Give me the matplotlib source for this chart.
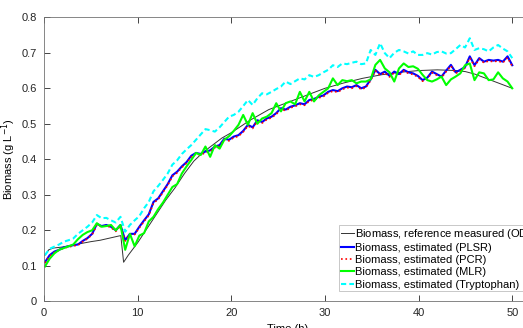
import numpy as np
import matplotlib.pyplot as plt

plt.rcParams['font.family'] = ['Liberation Sans', 'DejaVu Sans']

# reference measurement (OD), sparse and smooth
t_ref = [0.1, 0.5, 1, 2, 3, 4, 5, 6, 7, 8, 8.2, 8.5, 9, 10, 11, 12, 13, 14, 15, 16,
         17, 18, 19, 20, 22, 24, 26, 28, 30, 32, 34, 36, 38, 40, 42, 44, 45, 46, 47,
         48, 49, 50]
od_ref = [0.13, 0.145, 0.15, 0.153, 0.158, 0.163, 0.168, 0.172, 0.178, 0.184, 0.185,
          0.11, 0.13, 0.165, 0.205, 0.245, 0.285, 0.32, 0.36, 0.395, 0.42, 0.44, 0.46,
          0.475, 0.51, 0.54, 0.56, 0.58, 0.6, 0.615, 0.628, 0.638, 0.645, 0.65, 0.652,
          0.65, 0.647, 0.64, 0.63, 0.62, 0.61, 0.6]

# estimated series share one sampling grid
t_est = np.linspace(0.1, 50, 100)

plsr = [0.11, 0.13, 0.14, 0.145, 0.152, 0.155, 0.158, 0.16, 0.17, 0.178,
        0.19, 0.218, 0.212, 0.215, 0.21, 0.2, 0.215, 0.172, 0.19, 0.19,
        0.21, 0.228, 0.245, 0.28, 0.29, 0.31, 0.33, 0.355, 0.365, 0.38,
        0.392, 0.41, 0.418, 0.415, 0.422, 0.425, 0.436, 0.44, 0.458, 0.455,
        0.464, 0.468, 0.48, 0.497, 0.49, 0.51, 0.505, 0.515, 0.52, 0.53,
        0.544, 0.54, 0.548, 0.552, 0.558, 0.555, 0.567, 0.57, 0.576, 0.58,
        0.59, 0.595, 0.592, 0.6, 0.605, 0.603, 0.609, 0.6, 0.605, 0.625,
        0.652, 0.64, 0.647, 0.635, 0.647, 0.64, 0.652, 0.645, 0.642, 0.635,
        0.623, 0.63, 0.647, 0.64, 0.633, 0.65, 0.666, 0.645, 0.652, 0.66,
        0.69, 0.665, 0.685, 0.675, 0.68, 0.678, 0.68, 0.675, 0.69, 0.665]

pcr = [0.108, 0.128, 0.138, 0.144, 0.15, 0.153, 0.156, 0.158, 0.168, 0.176,
       0.188, 0.215, 0.21, 0.213, 0.208, 0.197, 0.212, 0.17, 0.188, 0.188,
       0.207, 0.225, 0.242, 0.277, 0.287, 0.307, 0.327, 0.352, 0.362, 0.377,
       0.389, 0.407, 0.415, 0.412, 0.419, 0.422, 0.433, 0.437, 0.455, 0.452,
       0.461, 0.465, 0.477, 0.494, 0.487, 0.507, 0.502, 0.512, 0.517, 0.527,
       0.541, 0.537, 0.545, 0.549, 0.555, 0.552, 0.564, 0.567, 0.573, 0.577,
       0.587, 0.592, 0.589, 0.597, 0.602, 0.6, 0.606, 0.597, 0.602, 0.622,
       0.649, 0.637, 0.644, 0.632, 0.644, 0.637, 0.649, 0.642, 0.639, 0.632,
       0.62, 0.627, 0.644, 0.637, 0.63, 0.647, 0.663, 0.642, 0.649, 0.657,
       0.686, 0.662, 0.682, 0.672, 0.677, 0.675, 0.677, 0.672, 0.686, 0.662]

mlr = [0.098, 0.12, 0.135, 0.145, 0.15, 0.155, 0.16, 0.175, 0.187, 0.195,
       0.2, 0.22, 0.21, 0.212, 0.215, 0.2, 0.215, 0.145, 0.19, 0.155,
       0.185, 0.192, 0.225, 0.238, 0.26, 0.278, 0.3, 0.322, 0.33, 0.36,
       0.38, 0.398, 0.418, 0.412, 0.436, 0.407, 0.44, 0.43, 0.455, 0.465,
       0.48, 0.497, 0.525, 0.497, 0.53, 0.5, 0.515, 0.52, 0.53, 0.558,
       0.535, 0.558, 0.563, 0.555, 0.59, 0.563, 0.59, 0.563, 0.58, 0.59,
       0.6, 0.628, 0.609, 0.623, 0.62, 0.623, 0.614, 0.619, 0.619, 0.625,
       0.666, 0.68, 0.656, 0.645, 0.619, 0.656, 0.67, 0.66, 0.662, 0.655,
       0.638, 0.623, 0.619, 0.625, 0.633, 0.609, 0.625, 0.633, 0.642, 0.665,
       0.67, 0.623, 0.645, 0.642, 0.623, 0.625, 0.645, 0.628, 0.619, 0.6]

trp = [0.13, 0.148, 0.154, 0.16, 0.168, 0.172, 0.177, 0.19, 0.2, 0.21,
       0.222, 0.243, 0.234, 0.235, 0.228, 0.222, 0.238, 0.196, 0.215, 0.228,
       0.24, 0.262, 0.28, 0.31, 0.325, 0.342, 0.36, 0.385, 0.397, 0.415,
       0.428, 0.44, 0.455, 0.47, 0.485, 0.482, 0.478, 0.49, 0.505, 0.52,
       0.525, 0.534, 0.55, 0.567, 0.553, 0.572, 0.586, 0.583, 0.59, 0.598,
       0.605, 0.619, 0.612, 0.62, 0.628, 0.625, 0.637, 0.632, 0.637, 0.645,
       0.652, 0.665, 0.66, 0.67, 0.668, 0.672, 0.675, 0.668, 0.67, 0.708,
       0.694, 0.727, 0.699, 0.685, 0.7, 0.708, 0.704, 0.698, 0.704, 0.694,
       0.694, 0.699, 0.695, 0.702, 0.704, 0.698, 0.699, 0.71, 0.722, 0.715,
       0.741, 0.708, 0.713, 0.71, 0.704, 0.715, 0.722, 0.712, 0.704, 0.685]

labels = ['Biomass, reference measured (OD$_{600}$)',
          'Biomass, estimated (PLSR)',
          'Biomass, estimated (PCR)',
          'Biomass, estimated (MLR)',
          'Biomass, estimated (Tryptophan)']

fig = plt.figure(figsize=(5.23, 3.28), dpi=100)
# axes box runs a little past the right edge of the canvas
ax = fig.add_axes([44 / 523, 1 - 301.3 / 328, 487 / 523, 284 / 328])

ax.plot(t_ref, od_ref, color='#333333', lw=0.7, label=labels[0])
ax.plot(t_est, plsr, color='#0000ff', lw=1.5, label=labels[1])
ax.plot(t_est, pcr, color='#ff0000', lw=1.2, ls=':', label=labels[2])
ax.plot(t_est, mlr, color='#00ff00', lw=1.5, label=labels[3])
ax.plot(t_est, trp, color='#00ffff', lw=1.5, ls='--', dashes=(2.5, 1.5), label=labels[4])

ax.set_xlim(0, 52)
ax.set_ylim(0, 0.8)
ax.set_xticks([0, 10, 20, 30, 40, 50])
ax.set_yticks(np.arange(0, 0.81, 0.1))
ax.set_yticklabels(['0', '0.1', '0.2', '0.3', '0.4', '0.5', '0.6', '0.7', '0.8'])
ax.tick_params(direction='in', length=4, width=0.6, top=True, right=True,
               labelsize=8, colors='0.15', pad=5)
for sp in ax.spines.values():
    sp.set_color('0.45')
    sp.set_linewidth(0.6)

ax.set_xlabel('Time (h)', fontsize=8, labelpad=4)
ax.set_ylabel('Biomass (g L$^{-1}$)', fontsize=8)
ax.yaxis.set_label_coords(-26 / 487, 0.5)

leg = ax.legend(loc='upper left', bbox_to_anchor=(339 / 523, 1 - 225 / 328),
                bbox_transform=fig.transFigure, fontsize=8, frameon=True,
                fancybox=False, borderpad=0.15, handlelength=1.2,
                handletextpad=0.1, labelspacing=0.2, borderaxespad=0)
leg.get_frame().set_edgecolor('0.75')
leg.get_frame().set_linewidth(0.6)
leg.get_frame().set_alpha(1)

fig.savefig('out.png', dpi=100)
